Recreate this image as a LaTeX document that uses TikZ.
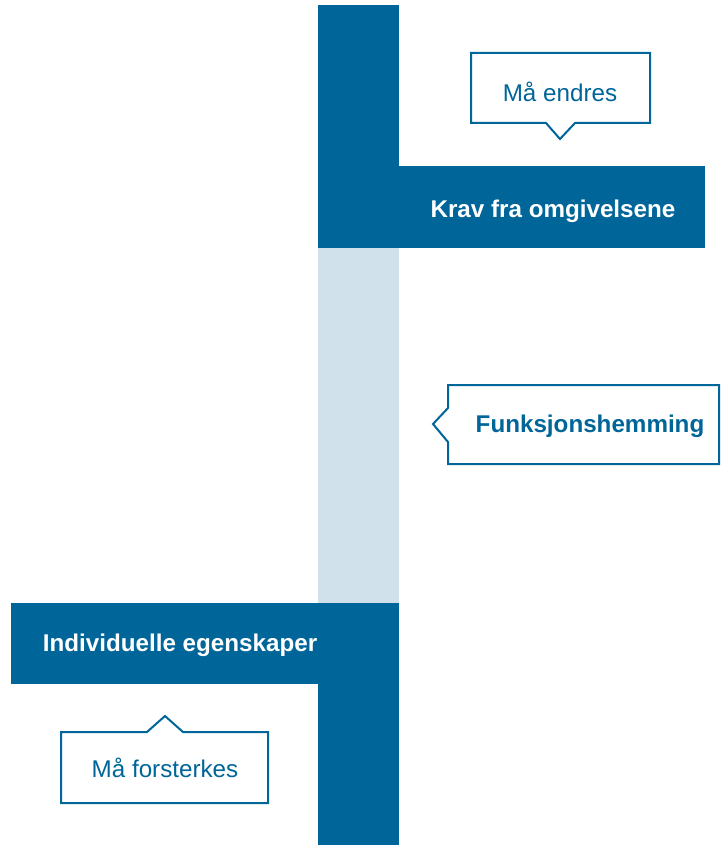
\documentclass[tikz,border=0pt]{standalone}
\usepackage{fontspec}
\setmainfont{Liberation Sans}
\definecolor{dkblue}{RGB}{0,101,153}
\definecolor{ltblue}{RGB}{209,225,235}
\tikzset{
  bar/.style={fill=dkblue, draw=none},
  lightbar/.style={fill=ltblue, draw=none},
  callout/.style={draw=dkblue, line width=2pt, fill=white, line join=miter},
  bartext/.style={text=white, font=\bfseries\fontsize{24.2}{28}\selectfont, inner sep=0pt},
  calltext/.style={text=dkblue, font=\fontsize{24.2}{28}\selectfont, inner sep=0pt},
  callbold/.style={text=dkblue, font=\bfseries\fontsize{24.2}{28}\selectfont, inner sep=0pt}
}
\begin{document}
\begin{tikzpicture}[x=1pt,y=-1pt]
\useasboundingbox (0,0) rectangle (721,845);
% bars
\fill[lightbar] (318,248) rectangle (399,604);
\fill[bar] (318,5) rectangle (399,248);
\fill[bar] (318,166) rectangle (705,248);
\fill[bar] (318,603) rectangle (399,845);
\fill[bar] (11,603) rectangle (399,684);
\node[bartext] (krav) at (553,211) {Krav fra omgivelsene};
\node[bartext] (indiv) at (180,645) {Individuelle egenskaper};
% callout 1
\draw[callout] (471,53) -- (650,53) -- (650,123) -- (575,123) -- (560,139) -- (546,123) -- (471,123) -- cycle;
\node[calltext] (endres) at (560,92) {Må endres};
% callout 2
\draw[callout] (448,385) -- (719,385) -- (719,464) -- (448,464) -- (448,442) -- (433,424) -- (448,408) -- cycle;
\node[callbold] (funk) at (590,426) {Funksjonshemming};
% callout 3
\draw[callout] (61,732) -- (147,732) -- (165,716) -- (183,732) -- (268,732) -- (268,803) -- (61,803) -- cycle;
\node[calltext] (forst) at (165,768) {Må forsterkes};
\end{tikzpicture}
\end{document}
